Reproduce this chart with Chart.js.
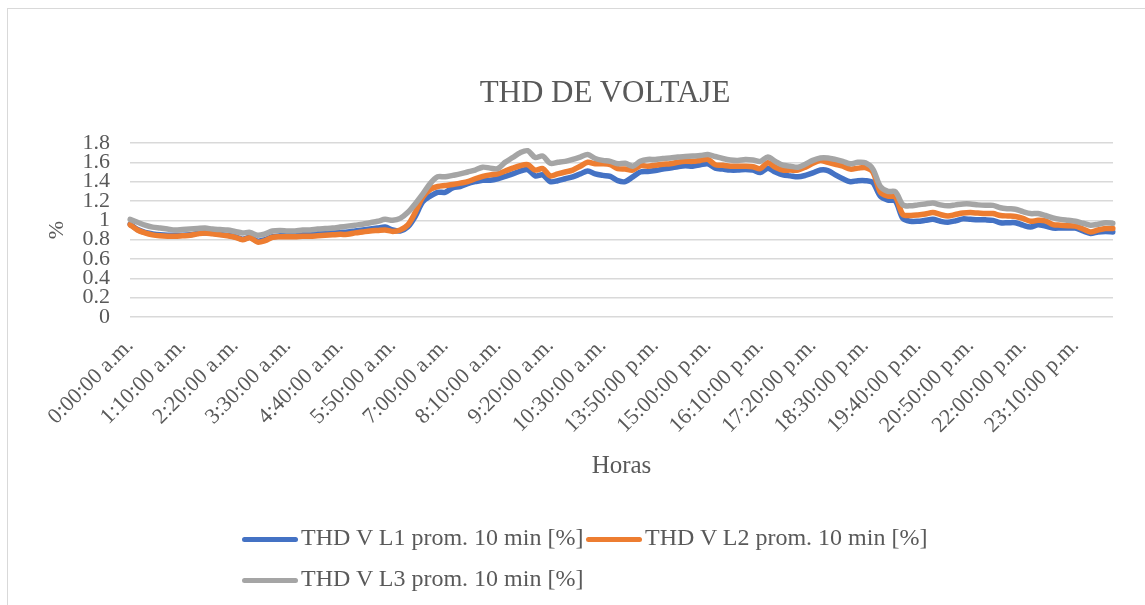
<!DOCTYPE html>
<html>
<head>
<meta charset="utf-8">
<script src="https://cdn.jsdelivr.net/npm/chart.js@4/dist/chart.umd.min.js"></script>
<style>
    body { margin: 0; background: #fff; }
    #wrap { position: relative; width: 1145px; height: 605px; overflow: hidden; font-family: "Liberation Serif", "Times New Roman", serif; color: #595959; }
    #frame { position: absolute; left: 7px; top: 8px; width: 1200px; height: 700px; border: 1px solid #d9d9d9; }
    #chart { position: absolute; left: 0; top: 0; }
    #title { position: absolute; left: 0; width: 1210px; top: 74px; text-align: center; font-size: 31px; }
    .item { position: absolute; height: 30px; line-height: 30px; font-size: 24px; white-space: nowrap; }
    .swatch { display: inline-block; width: 56px; height: 5px; border-radius: 3px; vertical-align: middle; margin-right: 3px; }
</style>
</head>
<body>
<div id="wrap">
    <div id="frame"></div>
    <canvas id="chart" width="1145" height="605"></canvas>
    <div id="title">THD DE VOLTAJE</div>
    <div id="legend"></div>
</div>
<script>
// tick labels shown every 7 readings (10 min data, gap between 10:30 and 13:50)
const tickLabels = ['0:00:00 a.m.', '1:10:00 a.m.', '2:20:00 a.m.', '3:30:00 a.m.', '4:40:00 a.m.',
    '5:50:00 a.m.', '7:00:00 a.m.', '8:10:00 a.m.', '9:20:00 a.m.', '10:30:00 a.m.', '13:50:00 p.m.',
    '15:00:00 p.m.', '16:10:00 p.m.', '17:20:00 p.m.', '18:30:00 p.m.', '19:40:00 p.m.', '20:50:00 p.m.',
    '22:00:00 p.m.', '23:10:00 p.m.'];

const seriesNames = ['THD V L1 prom. 10 min [%]', 'THD V L2 prom. 10 min [%]', 'THD V L3 prom. 10 min [%]'];
const seriesColors = ['#4472c4', '#ed7d31', '#a5a5a5'];

const thdL1 = [0.96,0.905,0.875,0.86,0.85,0.845,0.845,0.845,0.85,0.865,0.87,0.865,0.855,0.845,0.83,0.805,0.825,0.785,0.80,0.83,0.84,0.845,0.85,
    0.85,0.855,0.86,0.865,0.87,0.875,0.88,0.89,0.90,0.91,0.92,0.93,0.90,0.89,0.93,1.04,1.19,1.25,1.29,1.29,1.335,1.35,1.38,1.40,1.415,1.415,1.43,1.455,1.48,1.51,1.525,1.46,1.47,1.40,1.41,1.43,1.45,1.48,1.51,1.48,1.465,1.455,1.41,1.40,1.45,1.50,
    1.505,1.515,1.53,1.54,1.555,1.565,1.56,1.575,1.585,1.54,1.53,1.52,1.52,1.525,1.52,1.495,1.54,1.50,1.47,1.46,1.45,1.465,1.49,1.52,1.515,1.47,1.43,1.40,1.41,1.41,1.39,1.25,1.21,1.20,1.02,0.99,0.99,1.0,1.01,0.99,0.98,0.995,1.015,1.01,1.005,1.005,1.0,0.975,0.975,0.975,0.95,0.93,0.955,0.94,0.92,0.92,0.92,0.92,0.89,0.865,0.88,0.885,0.88];

const thdL2 = [0.955,0.90,0.87,0.85,0.84,0.835,0.835,0.84,0.845,0.86,0.87,0.86,0.85,0.84,0.825,0.80,0.82,0.775,0.79,0.825,0.83,0.83,0.83,
    0.835,0.835,0.84,0.845,0.85,0.855,0.855,0.87,0.88,0.89,0.895,0.90,0.885,0.90,0.95,1.08,1.24,1.32,1.35,1.36,1.37,1.385,1.40,1.43,1.455,1.47,1.48,1.51,1.54,1.565,1.575,1.52,1.535,1.46,1.48,1.50,1.52,1.56,1.60,1.585,1.585,1.575,1.535,1.53,1.52,1.565,
    1.56,1.57,1.58,1.585,1.60,1.61,1.61,1.62,1.63,1.575,1.57,1.56,1.56,1.56,1.555,1.535,1.595,1.55,1.52,1.52,1.52,1.55,1.59,1.62,1.60,1.58,1.56,1.53,1.54,1.545,1.50,1.29,1.25,1.24,1.06,1.05,1.055,1.065,1.08,1.06,1.045,1.06,1.075,1.08,1.075,1.07,1.07,1.05,1.045,1.04,1.02,0.99,1.0,0.995,0.955,0.95,0.945,0.94,0.91,0.88,0.90,0.915,0.915];

const thdL3 = [1.01,0.98,0.95,0.93,0.92,0.91,0.90,0.905,0.91,0.915,0.92,0.91,0.905,0.90,0.885,0.87,0.875,0.845,0.86,0.89,0.895,0.89,0.89,
    0.90,0.90,0.91,0.915,0.92,0.93,0.94,0.95,0.96,0.975,0.99,1.01,1.00,1.02,1.08,1.17,1.27,1.38,1.45,1.45,1.465,1.48,1.50,1.52,1.55,1.54,1.535,1.60,1.65,1.70,1.72,1.65,1.665,1.59,1.60,1.61,1.63,1.655,1.68,1.64,1.62,1.61,1.585,1.59,1.56,1.61,
    1.63,1.63,1.64,1.645,1.655,1.66,1.665,1.67,1.68,1.66,1.64,1.625,1.62,1.63,1.625,1.61,1.655,1.61,1.57,1.56,1.55,1.58,1.62,1.645,1.645,1.63,1.61,1.585,1.60,1.595,1.53,1.35,1.30,1.295,1.16,1.15,1.16,1.17,1.18,1.16,1.15,1.16,1.17,1.17,1.16,1.155,1.155,1.13,1.12,1.115,1.09,1.07,1.07,1.05,1.025,1.01,1.00,0.99,0.97,0.95,0.96,0.975,0.97];

const yTicks = [0, 0.2, 0.4, 0.6, 0.8, 1, 1.2, 1.4, 1.6, 1.8];

// one category per reading, only every 7th one gets a label
const categories = thdL1.map((_, i) => (i % 7 === 0 ? tickLabels[i / 7] : ''));

const font = 'Liberation Serif';
const textColor = '#595959';

function makeDataset(idx, values) {
    return {
        label: seriesNames[idx],
        data: values,
        borderColor: seriesColors[idx],
        backgroundColor: seriesColors[idx],
        borderWidth: 5.5,
        pointRadius: 0,
        tension: 0.3,
        borderCapStyle: 'round',
        borderJoinStyle: 'round',
        order: 2 - idx
    };
}

new Chart(document.getElementById('chart'), {
    type: 'line',
    data: {
        labels: categories,
        datasets: [makeDataset(0, thdL1), makeDataset(1, thdL2), makeDataset(2, thdL3)]
    },
    options: {
        responsive: false,
        animation: false,
        layout: { padding: { left: 10, top: 143, right: 32, bottom: 110 } },
        plugins: { legend: { display: false }, tooltip: { enabled: false } },
        scales: {
            x: {
                offset: false,
                grid: { display: false },
                border: { display: false },
                afterFit: (scale) => { scale.height = 178; },
                ticks: {
                    autoSkip: false,
                    minRotation: 45,
                    maxRotation: 45,
                    padding: 8,
                    color: textColor,
                    font: { family: font, size: 22 },
                    callback: (value, index) => categories[index] || null
                },
                title: {
                    display: true,
                    text: 'Horas',
                    color: textColor,
                    font: { family: font, size: 25 },
                    padding: { top: 0, bottom: 14 }
                }
            },
            y: {
                min: 0,
                max: 1.8,
                afterFit: (scale) => { scale.width = 120; },
                afterBuildTicks: (scale) => { scale.ticks = yTicks.map(v => ({ value: v })); },
                grid: { color: '#d9d9d9', lineWidth: 1.5, drawTicks: false },
                border: { display: false },
                ticks: {
                    autoSkip: false,
                    padding: 20,
                    color: textColor,
                    font: { family: font, size: 22, lineHeight: 1 },
                    callback: (value) => String(+value.toFixed(1))
                },
                title: {
                    display: true,
                    text: '%',
                    color: textColor,
                    font: { family: font, size: 22 },
                    padding: { top: 34, bottom: 0 }
                }
            }
        }
    }
});

// legend laid out like the spreadsheet legend: two items then one
const legendPos = [[242, 537], [586, 537], [242, 578]];
const legendEl = document.getElementById('legend');
seriesNames.forEach((name, i) => {
    const item = document.createElement('div');
    item.className = 'item';
    item.style.left = legendPos[i][0] + 'px';
    item.style.top = (legendPos[i][1] - 15) + 'px';
    item.innerHTML = `<span class="swatch" style="background:${seriesColors[i]}"></span>${name}`;
    legendEl.appendChild(item);
});
</script>
</body>
</html>
